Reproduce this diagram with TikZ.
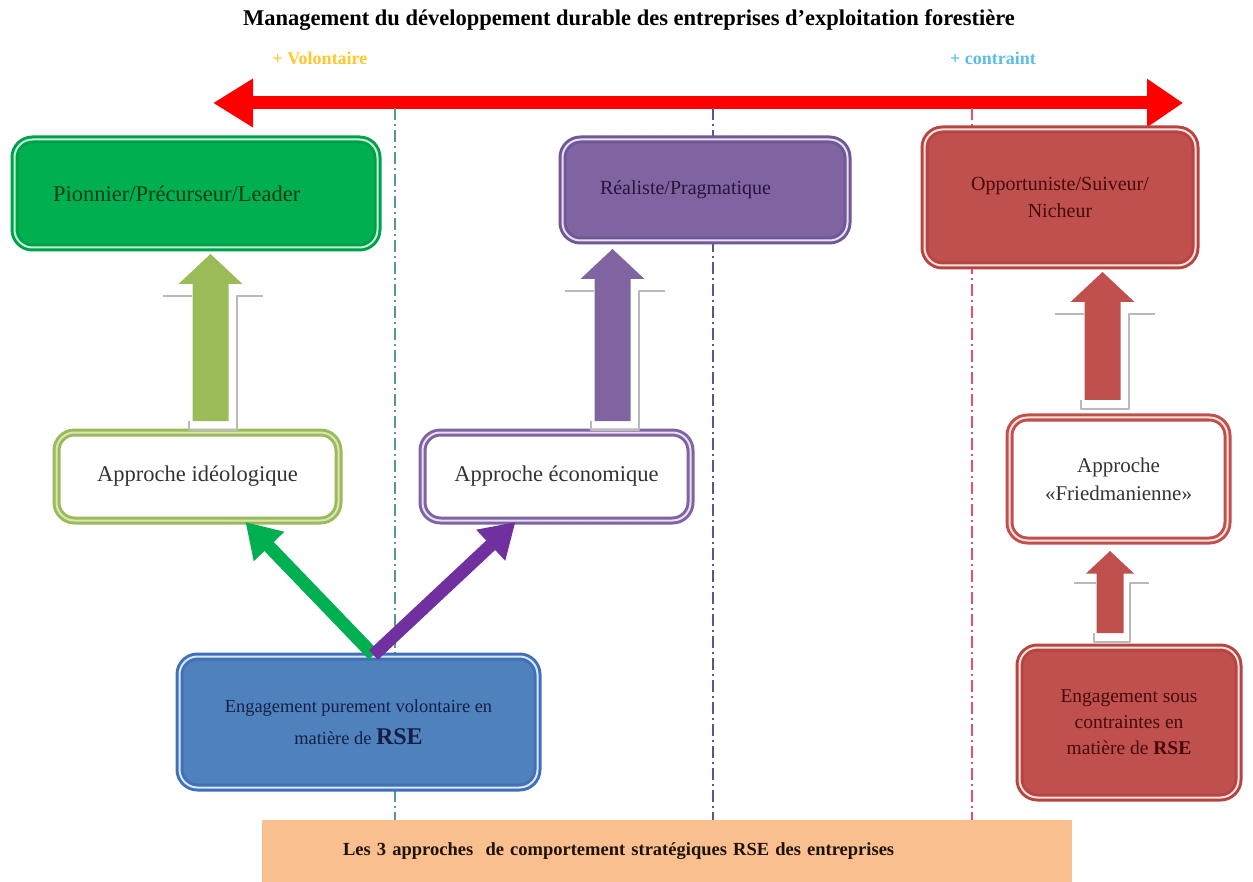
\documentclass[tikz,border=0pt]{standalone}
\usepackage{fontspec}
\setmainfont{Liberation Serif}
\usetikzlibrary{arrows.meta,calc}

\definecolor{pgreen}{RGB}{0,176,80}
\definecolor{pgreenD}{RGB}{0,160,75}
\definecolor{pgreenL}{RGB}{190,250,215}
\definecolor{pgreenT}{RGB}{10,60,25}
\definecolor{polive}{RGB}{155,187,89}
\definecolor{poliveL}{RGB}{215,230,185}
\definecolor{ppurple}{RGB}{128,100,162}
\definecolor{ppurpleD}{RGB}{112,88,150}
\definecolor{ppurpleL}{RGB}{232,222,245}
\definecolor{ppurpleT}{RGB}{40,20,60}
\definecolor{pviolet}{RGB}{112,48,160}
\definecolor{pred}{RGB}{192,80,77}
\definecolor{predD}{RGB}{182,68,66}
\definecolor{predL}{RGB}{255,228,222}
\definecolor{predT}{RGB}{70,10,10}
\definecolor{pblue}{RGB}{79,129,189}
\definecolor{pblueD}{RGB}{66,112,182}
\definecolor{pblueL}{RGB}{215,232,255}
\definecolor{pblueT}{RGB}{20,30,70}
\definecolor{porange}{RGB}{250,191,143}
\definecolor{volcol}{RGB}{255,200,40}
\definecolor{concol}{RGB}{90,190,235}
\definecolor{sepA}{RGB}{90,150,150}
\definecolor{sepB}{RGB}{100,80,140}
\definecolor{sepC}{RGB}{225,80,115}

\tikzset{
  rbox/.style={rounded corners=18pt, line width=3pt, double distance=2pt,
    inner sep=0pt, align=center},
  shadowline/.style={draw=gray!55, line width=2pt},
  sepline/.style={line width=1.4pt, dash pattern=on 12pt off 4pt on 2pt off 4pt},
  fork/.style={line width=13pt, -{Triangle[width=40pt,length=34pt]}},
}

% block arrow pointing up: base, tip, colour, size factor
\newcommand{\blockup}[4]{%
  \draw[shadowline] let \p1=(#1), \p2=(#2) in
    (\x1-48pt*#4,\y2-42pt*#4) -- (\x1-19pt*#4,\y2-42pt*#4)
    (\x1-22pt*#4,\y1) -- (\x1-22pt*#4,\y1-9pt) -- (\x1+26pt*#4,\y1-9pt)
      -- (\x1+26pt*#4,\y2-42pt*#4) -- (\x1+52pt*#4,\y2-42pt*#4);
  \fill[#3] let \p1=(#1), \p2=(#2) in
    (\x1-18pt*#4,\y1) -- (\x1-18pt*#4,\y2-30pt*#4) -- (\x1-32pt*#4,\y2-30pt*#4)
      -- (\x1,\y2) -- (\x1+32pt*#4,\y2-30pt*#4) -- (\x1+18pt*#4,\y2-30pt*#4)
      -- (\x1+18pt*#4,\y1) -- cycle;}

\begin{document}
\begin{tikzpicture}[x=1pt, y=-1pt, line join=round]
\useasboundingbox (0,0) rectangle (1253,882);

% title and scale
\node[font=\fontsize{22.5}{26}\selectfont\bfseries] (title) at (629,20)
  {Management du développement durable des entreprises d’exploitation forestière};
\node[font=\fontsize{18}{21}\selectfont\bfseries, text=volcol] (plusvol) at (320,58) {+ Volontaire};
\node[font=\fontsize{18}{21}\selectfont\bfseries, text=concol] (pluscon) at (993,58) {+ contraint};
\path (213,103) coordinate (la) (1183,103) coordinate (ra);
\draw[red, line width=13pt, {Triangle[width=46pt,length=40pt]}-{Triangle[width=46pt,length=36pt]}] (la) -- (ra);

\foreach \x/\c in {395/sepA, 713/sepB, 972/sepC}
  \draw[sepline, \c] (\x,108) -- (\x,820);

% profiles
\node[rbox, fill=pgreen, draw=pgreenD, double=pgreenL, minimum width=363, minimum height=108,
  text width=286, align=left, text=pgreenT, font=\fontsize{22.5}{26}\selectfont] (pio) at (196,193.5)
  {Pionnier/Précurseur/Leader};
\node[rbox, fill=ppurple, draw=ppurpleD, double=ppurpleL, minimum width=285, minimum height=101,
  text width=210, align=left, text=ppurpleT, font=\fontsize{20}{24}\selectfont] (rea) at (705,190)
  {Réaliste/Pragmatique};
\node[rbox, fill=pred, draw=predD, double=predL, minimum width=271, minimum height=136,
  text=predT, font=\fontsize{20}{27}\selectfont] (opp) at (1060,197.5)
  {Opportuniste/Suiveur/\\Nicheur};

% approaches
\node[rbox, fill=white, draw=polive, double=poliveL, minimum width=282, minimum height=88,
  text=black!80, font=\fontsize{22.5}{26}\selectfont] (ideo) at (197.5,476.5) {Approche idéologique};
\node[rbox, fill=white, draw=ppurple, double=ppurpleL, minimum width=268, minimum height=88,
  text=black!80, font=\fontsize{22.5}{26}\selectfont] (eco) at (556.5,476.5) {Approche économique};
\node[rbox, fill=white, draw=pred, double=predL, minimum width=218, minimum height=123,
  text=black!80, font=\fontsize{21}{28}\selectfont] (fried) at (1118.5,479)
  {Approche\\«Friedmanienne»};

% engagements
\node[rbox, fill=pblue, draw=pblueD, double=pblueL, minimum width=358, minimum height=131,
  text=pblueT, font=\fontsize{18.4}{32}\selectfont] (vol) at (358.5,722)
  {Engagement purement volontaire en\\matière de {\fontsize{24}{26}\selectfont\bfseries RSE}};
\node[rbox, fill=pred, draw=predD, double=predL, minimum width=219, minimum height=150,
  text=predT, font=\fontsize{19.5}{26}\selectfont] (con) at (1129,722.5)
  {Engagement sous\\contraintes en\\matière de \textbf{RSE}};

\node[fill=porange, minimum width=810, minimum height=62, inner sep=0pt, text width=648,
  align=left, text=black!85!brown, font=\fontsize{18.5}{21}\selectfont\bfseries] (bar) at (667,851)
  {Les 3 approches\ \ de comportement stratégiques RSE des entreprises};

% arrows
\coordinate (f0) at ($(vol.north)+(15,0)$);
\draw[fork, pgreen] (f0) -- ($(ideo.south)+(48,0)$);
\draw[fork, pviolet] (f0) -- ($(eco.south)+(-41,0)$);

\coordinate (g0) at ($(ideo.north)+(13,-10)$);
\coordinate (g1) at ($(g0 |- pio.south)+(0,5)$);
\coordinate (v0) at ($(eco.north)+(56,-10)$);
\coordinate (v1) at ($(v0 |- rea.south)+(0,7)$);
\coordinate (r0) at ($(fried.north)+(-16,-16)$);
\coordinate (r1) at ($(r0 |- opp.south)+(0,5)$);
\coordinate (r2) at ($(con.north)+(-19,-13)$);
\coordinate (r3) at ($(r2 |- fried.south)+(0,9)$);
\blockup{g0}{g1}{polive}{1}
\blockup{v0}{v1}{ppurple}{1}
\blockup{r0}{r1}{pred}{1}
\blockup{r2}{r3}{pred}{0.75}
\end{tikzpicture}
\end{document}
